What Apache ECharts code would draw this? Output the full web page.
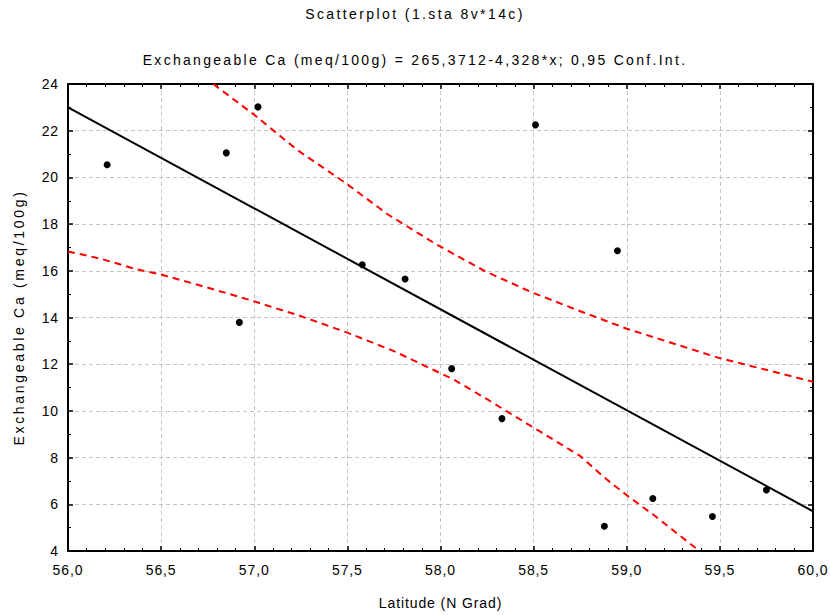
<!DOCTYPE html>
<html>
<head>
<meta charset="utf-8">
<script src="https://cdn.jsdelivr.net/npm/echarts@6/dist/echarts.min.js"></script>
<style>
html, body { margin: 0; padding: 0; background: #fff; }
#chart { width: 830px; height: 615px; }
</style>
</head>
<body>
<div id="chart"></div>
<script>
// data: [latitude, Ca]
var points = [
  [56.21, 20.54], [56.85, 21.05], [56.92, 13.79], [57.02, 23.02],
  [57.58, 16.26], [57.81, 15.65], [58.06, 11.81], [58.33, 9.67],
  [58.51, 22.25], [58.88, 5.06], [58.95, 16.86], [59.14, 6.25],
  [59.46, 5.48], [59.75, 6.61]
];
var fitLine = [[56.0, 23.0], [60.0, 5.70]];
var upperBand = [
  [56.78, 24.0], [57.0, 22.68], [57.23, 21.18], [57.49, 19.76], [57.72, 18.40],
  [57.98, 17.12], [58.24, 15.98], [58.49, 15.08], [58.75, 14.27], [59.0, 13.52],
  [59.23, 12.94], [59.49, 12.28], [60.0, 11.25]
];
var lowerBand = [
  [56.0, 16.83], [56.18, 16.51], [56.36, 16.08], [56.5, 15.84], [56.71, 15.37],
  [56.98, 14.74], [57.25, 14.06], [57.5, 13.35], [57.75, 12.56], [58.0, 11.61],
  [58.07, 11.35], [58.25, 10.5], [58.48, 9.38], [58.75, 8.07], [58.89, 7.08],
  [59.0, 6.39], [59.15, 5.51], [59.39, 4.0]
];
var titleText = 'Scatterplot (1.sta 8v*14c)';
var subText = 'Exchangeable Ca (meq/100g) = 265,3712-4,328*x; 0,95 Conf.Int.';
var xName = 'Latitude (N Grad)';
var yName = 'Exchangeable Ca (meq/100g)';

var chart = echarts.init(document.getElementById('chart'), null, { renderer: 'svg' });
var font = 'Arial, "Liberation Sans", sans-serif';

function xAx(pos, labels) {
  return {
    type: 'value', position: pos, min: 56, max: 60, interval: 0.5,
    name: labels ? xName : '', nameLocation: 'middle', nameGap: 45,
    nameTextStyle: { color: '#000', fontSize: 14, fontFamily: font },
    axisLine: { show: true, onZero: false, lineStyle: { color: '#000', width: 2 } },
    axisTick: { show: true, inside: true, length: 5, lineStyle: { color: '#000', width: 1.5 } },
    minorTick: { show: true, splitNumber: 5, length: 3, lineStyle: { color: '#000', width: 1 } },
    axisLabel: { show: labels, color: '#000', fontSize: 14, fontFamily: font, margin: 12,
      formatter: function (v) { return v.toFixed(1).replace('.', ','); } },
    splitLine: { show: labels, lineStyle: { color: '#c4c4c4', type: [4, 3], width: 1 } }
  };
}
function yAx(pos, labels) {
  return {
    type: 'value', position: pos, min: 4, max: 24, interval: 2,
    name: labels ? yName : '', nameLocation: 'middle', nameGap: 42,
    nameTextStyle: { color: '#000', fontSize: 14, fontFamily: font },
    axisLine: { show: true, onZero: false, lineStyle: { color: '#000', width: 2 } },
    axisTick: { show: true, inside: true, length: 5, lineStyle: { color: '#000', width: 1.5 } },
    minorTick: { show: true, splitNumber: 2, length: 3, lineStyle: { color: '#000', width: 1 } },
    axisLabel: { show: labels, color: '#000', fontSize: 14, fontFamily: font, margin: 9 },
    splitLine: { show: labels, lineStyle: { color: '#c4c4c4', type: [4, 3], width: 1 } }
  };
}

var option = {
  animation: false,
  backgroundColor: '#fff',
  title: [
    { text: titleText, left: 415, textAlign: 'center', top: 7, padding: 0,
      textStyle: { color: '#000', fontSize: 14, fontWeight: 'normal', fontFamily: font } },
    { text: subText, left: 415, textAlign: 'center', top: 53, padding: 0,
      textStyle: { color: '#000', fontSize: 14, fontWeight: 'normal', fontFamily: font } }
  ],
  grid: { left: 68, right: 17, top: 84, bottom: 63 },
  xAxis: [xAx('bottom', true), xAx('top', false)],
  yAxis: [yAx('left', true), yAx('right', false)],
  series: [
    { type: 'line', data: upperBand, symbol: 'none', silent: true,
      lineStyle: { color: '#ff0000', width: 2, type: [7, 5] } },
    { type: 'line', data: lowerBand, symbol: 'none', silent: true,
      lineStyle: { color: '#ff0000', width: 2, type: [7, 5] } },
    { type: 'line', data: fitLine, symbol: 'none', silent: true,
      lineStyle: { color: '#000', width: 2 } },
    { type: 'scatter', data: points, symbol: 'circle', symbolSize: 7,
      itemStyle: { color: '#000', opacity: 1 } }
  ]
};
chart.setOption(option);

// the original uses wide character spacing
var wide = {};
wide[titleText] = '2.4px';
wide[subText] = '2.3px';
wide[yName] = '2.7px';
document.querySelectorAll('#chart text').forEach(function (t) {
  t.style.letterSpacing = wide[t.textContent] || '0.9px';
});
</script>
</body>
</html>
